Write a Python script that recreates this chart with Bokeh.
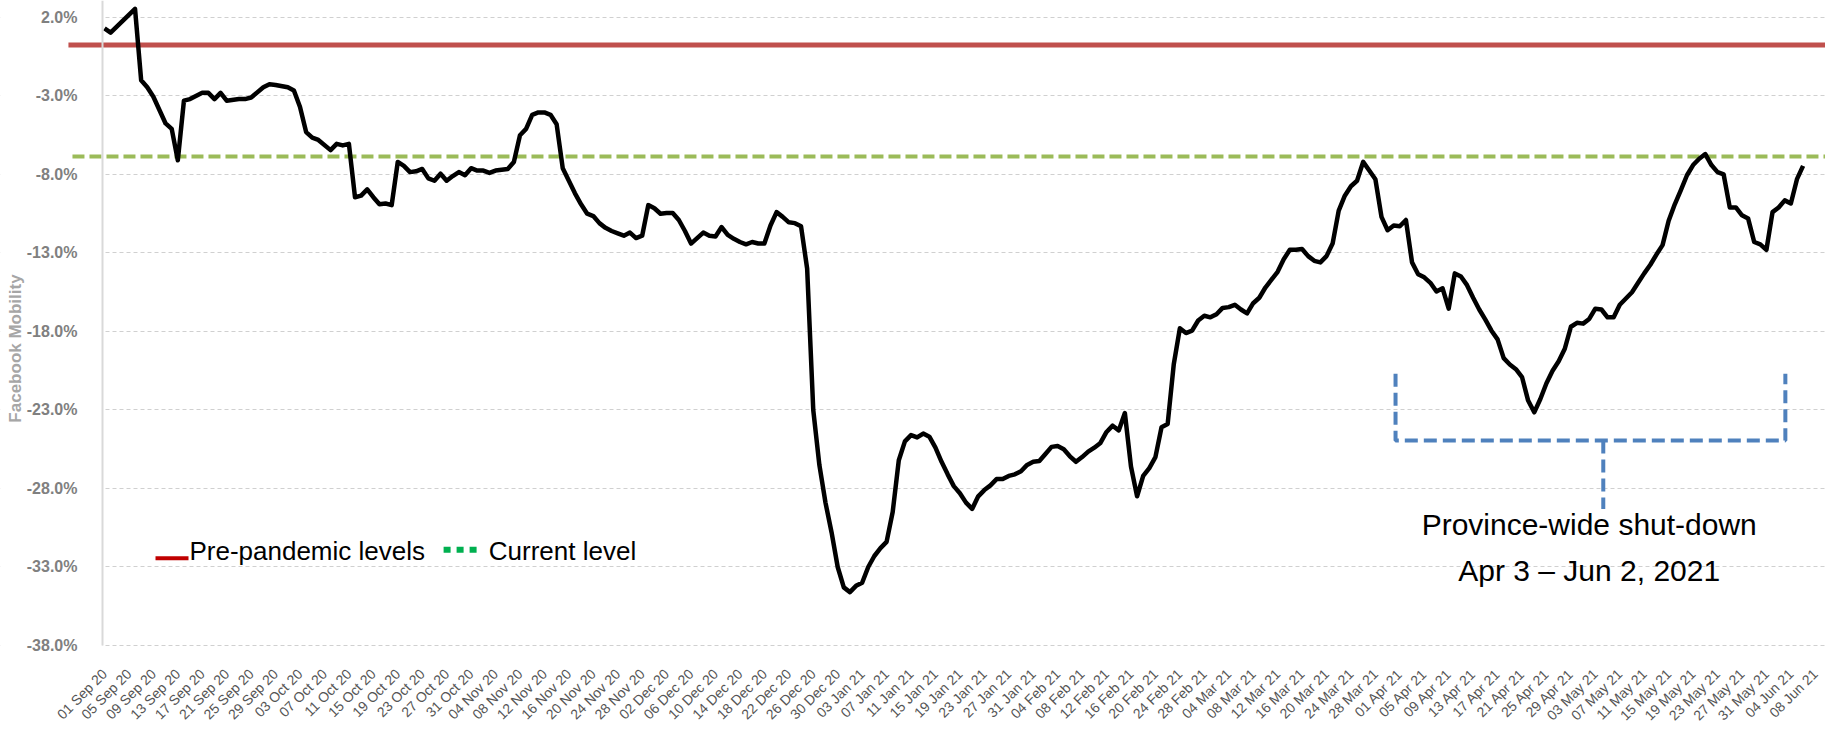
import math
from datetime import datetime, timezone

from bokeh.plotting import figure
from bokeh.models import (Range1d, FixedTicker, DatetimeTickFormatter, PrintfTickFormatter,
                          BoxAnnotation, ColumnDataSource, LinearAxis)
from bokeh.core.properties import value
from bokeh.embed import file_html
from bokeh.resources import INLINE

# ---------------- data ----------------
start_date = datetime(2020, 9, 1, tzinfo=timezone.utc)

day_offsets = [
    0, 1, 5, 6, 7, 8, 10, 11, 12, 13, 14, 16, 17, 18, 19, 20, 22, 23, 24, 26, 27, 28, 30, 31,
    32, 33, 34, 35, 37, 38, 39, 40, 41, 42, 43, 44, 45, 46, 47, 48, 49, 50, 51, 52, 53, 54,
    55, 56, 57, 58, 59, 60, 61, 62, 63, 64, 66, 67, 68, 69, 70, 71, 72, 73, 74, 75, 76, 77,
    78, 79, 80, 81, 82, 83, 84, 85, 86, 87, 88, 89, 90, 91, 92, 93, 94, 95, 96, 97, 98, 99,
    100, 101, 102, 103, 104, 105, 106, 107, 108, 109, 110, 111, 112, 113, 114, 115, 116, 117,
    118, 119, 120, 121, 122, 123, 124, 125, 126, 127, 128, 129, 130, 131, 132, 133, 134, 135,
    136, 137, 138, 139, 140, 141, 142, 143, 144, 145, 146, 147, 148, 149, 150, 151, 152, 153,
    154, 155, 156, 157, 158, 159, 160, 161, 162, 163, 164, 165, 166, 167, 168, 169, 170, 171,
    172, 173, 174, 175, 176, 177, 178, 179, 180, 181, 182, 183, 184, 185, 186, 187, 188, 189,
    190, 191, 192, 193, 194, 195, 196, 197, 198, 199, 200, 201, 202, 203, 204, 205, 206, 207,
    208, 209, 210, 211, 212, 213, 214, 215, 216, 217, 218, 219, 220, 221, 222, 223, 224, 225,
    226, 227, 228, 229, 230, 231, 232, 233, 234, 235, 236, 237, 238, 239, 240, 241, 242, 243,
    244, 245, 246, 247, 248, 249, 250, 251, 252, 253, 254, 255, 256, 257, 258, 259, 260, 261,
    262, 263, 264, 265, 266, 267, 268, 269, 270, 271, 272, 273, 274, 275, 276, 277, 278,
]

mobility = [
    1.3, 1.03, 2.55, -2.0, -2.45, -3.05, -4.75, -5.1, -7.1, -3.3, -3.2, -2.8, -2.8, -3.2, -2.8,
    -3.3, -3.2, -3.2, -3.1, -2.45, -2.25, -2.3, -2.45, -2.65,
    -3.7, -5.3, -5.65, -5.8, -6.45, -6.05, -6.15, -6.05, -9.45, -9.35, -8.95, -9.45, -9.9,
    -9.85, -9.95, -7.2, -7.45, -7.85, -7.8, -7.65, -8.25, -8.4,
    -7.95, -8.4, -8.1, -7.85, -8.05, -7.6, -7.75, -7.75, -7.9, -7.75, -7.65, -7.2, -5.5, -5.1,
    -4.2, -4.05, -4.05, -4.2, -4.8, -7.6, -8.4, -9.2,
    -9.9, -10.5, -10.65, -11.1, -11.4, -11.6, -11.75, -11.9, -11.7, -12.05, -11.9, -9.95,
    -10.15, -10.5, -10.45, -10.45, -10.9, -11.6, -12.4, -12.05, -11.7, -11.9,
    -11.95, -11.35, -11.85, -12.1, -12.3, -12.45, -12.3, -12.4, -12.4, -11.25, -10.4, -10.7,
    -11.05, -11.1, -11.3, -14.0, -23.0, -26.5,
    -28.9, -30.8, -33.0, -34.3, -34.6, -34.2, -34.0, -33.0, -32.3, -31.8, -31.4, -29.5, -26.2,
    -25.0, -24.6, -24.75, -24.5, -24.7,
    -25.4, -26.3, -27.1, -27.85, -28.3, -28.9, -29.3, -28.5, -28.1, -27.8, -27.4, -27.4, -27.2,
    -27.1, -26.9, -26.5, -26.3, -26.25,
    -25.8, -25.35, -25.3, -25.5, -25.95, -26.3, -26.0, -25.65, -25.4, -25.1, -24.4, -24.0,
    -24.3, -23.2, -26.6, -28.5, -27.2, -26.7,
    -26.0, -24.1, -23.9, -20.1, -17.8, -18.1, -17.95, -17.3, -17.0, -17.1, -16.9, -16.5,
    -16.45, -16.3, -16.6, -16.85, -16.2, -15.85,
    -15.2, -14.7, -14.2, -13.4, -12.8, -12.8, -12.75, -13.2, -13.5, -13.6, -13.2, -12.4, -10.3,
    -9.35, -8.75, -8.4, -7.2, -7.75,
    -8.3, -10.7, -11.55, -11.25, -11.3, -10.9, -13.6, -14.35, -14.55, -14.9, -15.45, -15.25,
    -16.55, -14.3, -14.5, -15.05, -15.85, -16.6,
    -17.25, -17.95, -18.5, -19.7, -20.1, -20.4, -20.9, -22.4, -23.15, -22.3, -21.3, -20.5,
    -19.9, -19.1, -17.7, -17.45, -17.5, -17.2,
    -16.55, -16.6, -17.1, -17.1, -16.3, -15.9, -15.5, -14.9, -14.3, -13.75, -13.1, -12.5,
    -10.95, -9.9, -9.0, -8.05, -7.4, -7.0,
    -6.7, -7.4, -7.85, -8.0, -10.1, -10.1, -10.6, -10.8, -12.3, -12.45, -12.8, -10.4, -10.1,
    -9.65, -9.85, -8.3, -7.45,
]

x_tick_step_days = 4
x_tick_count = 71                      # 01 Sep 20 ... 08 Jun 21
y_ticks = [2, -3, -8, -13, -18, -23, -28, -33, -38]

pre_pandemic_level = 0.25              # red reference line
current_level = -6.85                  # green dashed reference line

y_axis_title = "Facebook Mobility"
legend_labels = ["Pre-pandemic levels", "Current level"]
shutdown_text = ["Province-wide shut-down", "Apr 3 \u2013 Jun 2, 2021"]

# annotation placement (days since start / data units)
ref_line_start = [-5.9, -5.24]         # red, green lines begin left of the axis
ref_line_end = 290
bracket_x = [211.3, 275.1]
bracket_y = [-20.7, -24.95]
stem_x = 245.3
stem_bottom = -29.3
shutdown_text_x = 243.0
shutdown_text_y = [-30.3, -33.2]
legend_red_x = [8.35, 13.75]
legend_red_y = -32.45
legend_green_x = [55.5, 61.1]
legend_green_y = -31.9
legend_text_x = [13.9, 62.9]
legend_text_y = -32.0


def ms(d):
    return start_date.timestamp() * 1000.0 + d * 86400000.0


# ---------------- figure ----------------
p = figure(
    width=1825, height=729,
    x_axis_type="datetime",
    x_range=Range1d(ms(-17.02), ms(281.67)),
    y_range=Range1d(-43.35, 3.08),
    output_backend="svg", toolbar_location=None,
    min_border_left=0, min_border_right=0, min_border_top=0, min_border_bottom=0,
    outline_line_color=None, background_fill_color="white", border_fill_color="white",
)

# grid
p.xgrid.visible = False
p.ygrid.ticker = FixedTicker(ticks=y_ticks)
p.ygrid.grid_line_color = "#d0d0d0"
p.ygrid.grid_line_dash = "4 3"
p.ygrid.grid_line_width = 1

# mask grid left of the y axis line
axis_loc = ms(-0.33)
p.add_layout(BoxAnnotation(right=axis_loc, fill_color="white", fill_alpha=1.0,
                           line_color=None, level="underlay"))

# y axis (drawn at a fixed location inside the frame)
ya = p.yaxis[0]
ya.fixed_location = axis_loc
ya.bounds = (y_ticks[-1], 3.1)
ya.ticker = FixedTicker(ticks=y_ticks)
ya.formatter = PrintfTickFormatter(format="%.1f%%")
ya.axis_line_color = "#d9d9d9"
ya.axis_line_width = 2
ya.major_tick_line_color = None
ya.minor_tick_line_color = None
ya.major_label_standoff = 19
ya.major_label_text_font = "Liberation Sans"
ya.major_label_text_font_size = "16px"
ya.major_label_text_font_style = "bold"
ya.major_label_text_color = "#808080"

# y axis title, centred a little lower than the axis line's midpoint
title_axis = LinearAxis(
    fixed_location=axis_loc, bounds=(-41.26, 3.1), ticker=FixedTicker(ticks=[]),
    axis_line_color=None, major_tick_line_color=None, minor_tick_line_color=None,
    axis_label=y_axis_title, axis_label_standoff=78,
    axis_label_text_font="Liberation Sans", axis_label_text_font_size="17px",
    axis_label_text_font_style="bold", axis_label_text_color="#a6a6a6",
)
p.add_layout(title_axis, "left")

# x axis (drawn at the -38% line inside the frame)
xa = p.xaxis[0]
xa.fixed_location = y_ticks[-1]
xa.ticker = FixedTicker(ticks=[ms(x_tick_step_days * k) for k in range(x_tick_count)])
fmt = "%d %b %y"
xa.formatter = DatetimeTickFormatter(days=fmt, months=fmt, years=fmt, hours=fmt,
                                     hourmin=fmt, minutes=fmt)
xa.major_label_orientation = math.pi / 4
xa.axis_line_color = None
xa.major_tick_line_color = None
xa.minor_tick_line_color = None
xa.major_label_standoff = 20
xa.major_label_text_font = "Liberation Sans"
xa.major_label_text_font_size = "14px"
xa.major_label_text_color = "#555555"

# reference lines
p.segment(x0=[ms(ref_line_start[0])], y0=[pre_pandemic_level], x1=[ms(ref_line_end)],
          y1=[pre_pandemic_level], line_color="#c0504d", line_width=5)
p.segment(x0=[ms(ref_line_start[1])], y0=[current_level], x1=[ms(ref_line_end)],
          y1=[current_level], line_color="#9bbb59", line_width=4, line_dash="12 5")

# main series
src = ColumnDataSource(dict(x=[ms(d) for d in day_offsets], y=mobility))
p.line("x", "y", source=src, line_color="black", line_width=4.5, line_join="round")

# shut-down bracket
p.multi_line(
    xs=[[ms(bracket_x[0]), ms(bracket_x[0]), ms(bracket_x[1]), ms(bracket_x[1])],
        [ms(stem_x), ms(stem_x)]],
    ys=[[bracket_y[0], bracket_y[1], bracket_y[1], bracket_y[0]],
        [bracket_y[1], stem_bottom]],
    line_color="#4f81bd", line_width=4, line_dash="13 6",
)
p.text(x=[ms(shutdown_text_x)] * 2, y=shutdown_text_y, text=shutdown_text,
       text_font=value("Liberation Sans"), text_font_size="30px", text_color="black",
       text_align="center", text_baseline="middle")

# hand-made legend
p.segment(x0=[ms(legend_red_x[0])], y0=[legend_red_y], x1=[ms(legend_red_x[1])],
          y1=[legend_red_y], line_color="#c00000", line_width=4)
p.segment(x0=[ms(legend_green_x[0])], y0=[legend_green_y], x1=[ms(legend_green_x[1])],
          y1=[legend_green_y], line_color="#00b050", line_width=6, line_dash="7 6")
p.text(x=[ms(v) for v in legend_text_x], y=[legend_text_y] * 2, text=legend_labels,
       text_font=value("Liberation Sans"), text_font_size="26px", text_color="black",
       text_align="left", text_baseline="alphabetic")

open("out.html", "w").write(file_html(p, INLINE))
